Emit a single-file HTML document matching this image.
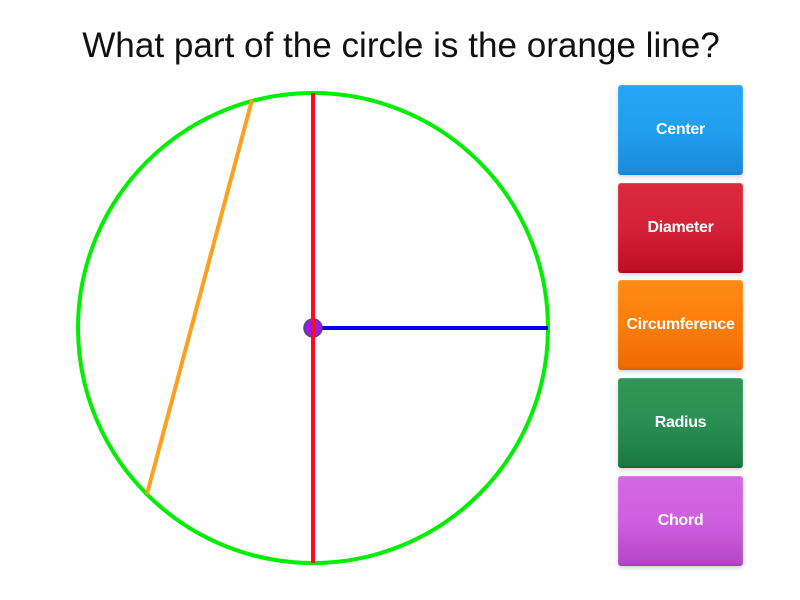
<!DOCTYPE html>
<html>
<head>
<meta charset="utf-8">
<style>
html,body{margin:0;padding:0;background:#fff;width:800px;height:600px;overflow:hidden}
body{position:relative;font-family:"Liberation Sans",sans-serif}
h1{position:absolute;left:0;top:24px;width:802px;margin:0;text-align:center;font-weight:400;font-size:35.1px;line-height:44px;color:#111;white-space:nowrap}
svg{position:absolute;left:0;top:0}
.b{position:absolute;left:618px;width:125px;height:90px;border-radius:3px;color:#fff;font-size:16px;font-weight:700;text-align:center;line-height:89px;box-shadow:0 2px 4px rgba(0,0,0,.18),inset 0 1px 0 rgba(255,255,255,.15),inset 1px 0 0 rgba(255,255,255,.08),inset -1px 0 0 rgba(255,255,255,.12);letter-spacing:-.3px}
</style>
</head>
<body>
<h1>What part of the circle is the orange line?</h1>
<svg width="800" height="600" viewBox="0 0 800 600">
<circle cx="313" cy="328" r="235" fill="none" stroke="#00ee00" stroke-width="4"/>
<line x1="252" y1="100" x2="147" y2="494" stroke="#ff9f1c" stroke-width="4"/>
<line x1="313" y1="328" x2="548" y2="328" stroke="#0000ee" stroke-width="4"/>
<circle cx="313" cy="328" r="9" fill="#9420e8" stroke="#5a3f80" stroke-width="1.5"/>
<line x1="313" y1="93" x2="313" y2="563" stroke="#ff0a20" stroke-width="4"/>
</svg>
<div class="b" style="top:85px;background:linear-gradient(#27a5f5 0%,#219fef 50%,#1a8cdc 96%,#157fc8 100%)">Center</div>
<div class="b" style="top:183px;background:linear-gradient(#d92a40 0%,#d42238 50%,#bf0f25 96%,#a80c20 100%)">Diameter</div>
<div class="b" style="top:280px;background:linear-gradient(#ff8a15 0%,#fb7e0c 50%,#f06a00 96%,#d85f00 100%)">Circumference</div>
<div class="b" style="top:378px;background:linear-gradient(#2f9658 0%,#2a8f52 50%,#1a7a40 96%,#146535 100%)">Radius</div>
<div class="b" style="top:476px;background:linear-gradient(#d468e4 0%,#cf60df 50%,#b548c6 96%,#a03fb0 100%)">Chord</div>
</body>
</html>
